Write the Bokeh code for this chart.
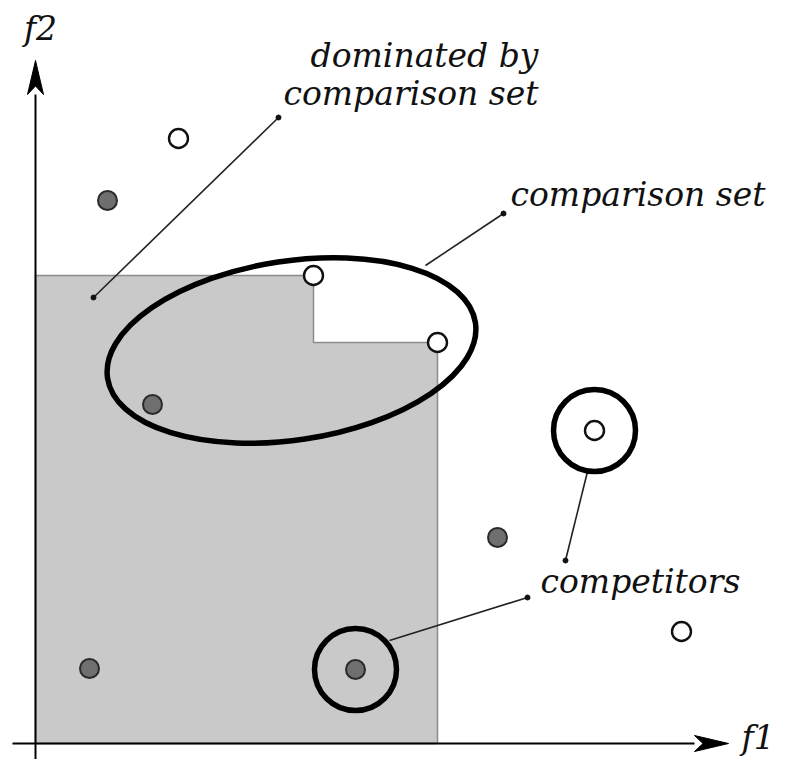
from bokeh.plotting import figure
from bokeh.models import Range1d
from bokeh.core.properties import value
from bokeh.embed import file_html
from bokeh.resources import INLINE

# ---- data (objective space f1, f2) ----
white_f1 = [2.86, 5.56, 8.04, 11.18, 12.92]
white_f2 = [12.10, 9.36, 8.02, 6.26, 2.24]
gray_f1 = [1.44, 2.34, 9.24, 1.08, 6.40]
gray_f2 = [10.86, 6.78, 4.12, 1.50, 1.48]
comparison_set = [1, 2]            # indices into white points
competitors_f1 = [11.18, 6.40]
competitors_f2 = [6.26, 1.48]

# annotation geometry
ell_x, ell_y, ell_w, ell_h, ell_angle = 5.12, 7.86, 7.44, 3.58, 0.15
comp_radius = 0.82
lead_x0 = [1.16, 9.36, 10.60, 9.84]
lead_y0 = [8.92, 10.60, 3.66, 2.92]
lead_x1 = [4.86, 7.80, 11.04, 7.08]
lead_y1 = [12.52, 9.56, 5.44, 2.06]
dot_x = [1.16, 4.86, 9.36, 10.60, 9.84]
dot_y = [8.92, 12.52, 10.60, 3.66, 2.92]

labels = ["dominated by", "comparison set", "comparison set", "competitors"]
label_x = [10.06, 10.06, 9.50, 10.10]
label_y = [13.76, 13.00, 10.98, 3.25]
label_align = ["right", "right", "left", "left"]

x_axis_start, y_axis_start = -0.46, -0.32
x_arrow_tip, y_arrow_tip = 13.86, 13.66
head_len, head_half, head_notch = 0.68, 0.16, 0.5

FONT = value("DejaVu Serif")
FSIZE = "33px"

p = figure(width=789, height=759, output_backend="svg", toolbar_location=None,
           x_range=Range1d(-0.70, 15.08), y_range=Range1d(-0.32, 14.86),
           x_axis_type=None, y_axis_type=None, min_border=0)
p.grid.visible = False
p.outline_line_color = None
p.background_fill_color = "white"
p.border_fill_color = "white"

# dominated region (union of boxes below comparison-set points)
cs = sorted([(white_f1[i], white_f2[i]) for i in comparison_set])
rx, ry = [0.0, 0.0], [0.0, cs[0][1]]
for k, (cx, cy) in enumerate(cs):
    rx.append(cx); ry.append(cy)
    nxt = cs[k + 1][1] if k + 1 < len(cs) else 0.0
    rx.append(cx); ry.append(nxt)
p.patch(rx, ry, fill_color="#c9c9c9", line_color="#8c8c8c", line_width=1.5)

# axes
p.line([x_axis_start, x_arrow_tip - head_len], [0, 0], line_color="black", line_width=2)
p.line([0, 0], [y_axis_start, y_arrow_tip - head_len], line_color="black", line_width=2)
p.patch([x_arrow_tip, x_arrow_tip - head_len, x_arrow_tip - head_len * (1 - head_notch * 0.5), x_arrow_tip - head_len],
        [0, head_half, 0, -head_half], fill_color="black", line_color="black", line_width=1)
p.patch([0, head_half, 0, -head_half],
        [y_arrow_tip, y_arrow_tip - head_len, y_arrow_tip - head_len * (1 - head_notch * 0.5), y_arrow_tip - head_len],
        fill_color="black", line_color="black", line_width=1)

# leader lines
p.segment(lead_x0, lead_y0, lead_x1, lead_y1, line_color="#222222", line_width=1.6)
p.scatter(dot_x, dot_y, size=5, fill_color="#111111", line_color="#111111")

# ellipse around comparison set, circles around competitors
p.ellipse(x=[ell_x], y=[ell_y], width=[ell_w], height=[ell_h], angle=[ell_angle],
          fill_color=None, line_color="black", line_width=5.5)
p.circle(x=competitors_f1, y=competitors_f2, radius=comp_radius,
         fill_color=None, line_color="black", line_width=5.5)

# points
p.scatter(gray_f1, gray_f2, size=19, fill_color="#6f6f6f", line_color="#2a2a2a", line_width=2)
p.scatter(white_f1, white_f2, size=19, fill_color="white", line_color="#111111", line_width=2.4)

# labels
for t, x, y, a in zip(labels, label_x, label_y, label_align):
    p.text(x=[x], y=[y], text=[t], text_font=FONT, text_font_style="italic",
           text_font_size=FSIZE, text_align=a, text_baseline="alphabetic", text_color="#111111")

p.text(x=[0.10], y=[14.30], text=["f2"], text_font=FONT, text_font_style="italic",
       text_font_size=FSIZE, text_align="center", text_baseline="alphabetic", text_color="#111111")
p.text(x=[14.12], y=[0.12], text=["f1"], text_font=FONT, text_font_style="italic",
       text_font_size=FSIZE, text_align="left", text_baseline="middle", text_color="#111111")

open("out.html", "w").write(file_html(p, INLINE))
